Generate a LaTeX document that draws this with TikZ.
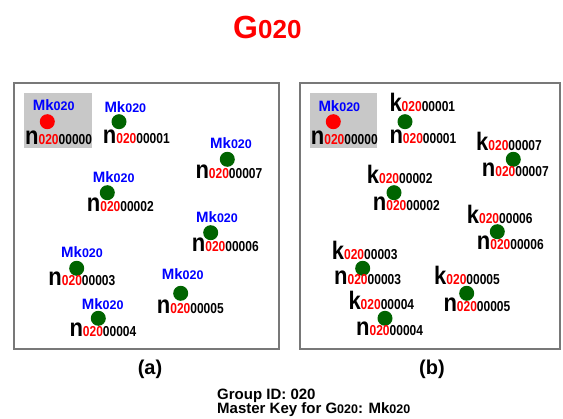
\documentclass[tikz,border=0pt]{standalone}
\usepackage{fontspec}
\setmainfont{Liberation Sans}
\usepackage{graphicx}
\definecolor{dgreen}{RGB}{0,100,0}
\definecolor{boxgray}{RGB}{200,200,200}
\definecolor{framegray}{RGB}{120,120,120}
\newcommand{\Lbig}[1]{\scalebox{1}[1.15]{\fontsize{22}{22}\selectfont #1}}
\newcommand{\Ldig}[1]{\scalebox{1}[1.2]{\fontsize{12}{12}\selectfont #1}}
\newcommand{\nlab}[2]{\Lbig{#1}\Ldig{\textcolor{red}{020}#2}}
\newcommand{\mklab}{\textcolor{blue}{{\fontsize{15}{15}\selectfont Mk}{\fontsize{12.5}{12.5}\selectfont 020}}}
\tikzset{
  lab/.style={anchor=base west, inner sep=0pt, font=\bfseries},
  dot/.style={circle, fill=dgreen, minimum size=15pt, inner sep=0pt},
  mdot/.style={circle, fill=red, minimum size=15pt, inner sep=0pt},
  panel/.style={draw=framegray, line width=1.6pt},
  keybox/.style={fill=boxgray},
  foot/.style={anchor=base west, inner sep=0pt, font=\bfseries\fontsize{15}{15}\selectfont},
  panelcaption/.style={anchor=base, inner sep=0pt, font=\bfseries\fontsize{20}{20}\selectfont},
}
\begin{document}
\begin{tikzpicture}[x=1pt,y=-1pt]
\useasboundingbox (0,0) rectangle (563,419);
% title
\node[lab, text=red] (title) at (233,39) {{\fontsize{32}{32}\selectfont G}{\fontsize{26}{26}\selectfont 020}};
% panels
\draw[panel] (14,83) rectangle (279,349);
\draw[panel] (300,83) rectangle (560,349);
\fill[keybox] (24,93) rectangle (92,148);
\fill[keybox] (310,93) rectangle (377,148);
% panel (a)
\node[mdot] (a0) at (47.3,121.7) {};
\node[lab] (a0k) at (32.7,110.7) {\mklab};
\node[lab] (a0n) at (25,144.3) {\nlab{n}{00000}};
\node[dot] (a1) at (119,121.7) {};
\node[lab] (a1k) at (104.3,112.3) {\mklab};
\node[lab] (a1n) at (102.7,143.3) {\nlab{n}{00001}};
\node[dot] (a7) at (227.3,159.3) {};
\node[lab] (a7k) at (210,148.3) {\mklab};
\node[lab] (a7n) at (195.3,178.3) {\nlab{n}{00007}};
\node[dot] (a2) at (107.3,192.7) {};
\node[lab] (a2k) at (92.7,182.7) {\mklab};
\node[lab] (a2n) at (86.7,211.7) {\nlab{n}{00002}};
\node[dot] (a6) at (210.7,232.7) {};
\node[lab] (a6k) at (196,222.7) {\mklab};
\node[lab] (a6n) at (191.7,251.7) {\nlab{n}{00006}};
\node[dot] (a3) at (76.7,268.3) {};
\node[lab] (a3k) at (61,257.3) {\mklab};
\node[lab] (a3n) at (48.3,286) {\nlab{n}{00003}};
\node[dot] (a5) at (180.7,293.3) {};
\node[lab] (a5k) at (161.7,280) {\mklab};
\node[lab] (a5n) at (156.7,313.3) {\nlab{n}{00005}};
\node[dot] (a4) at (98.3,318.3) {};
\node[lab] (a4k) at (81.7,309.3) {\mklab};
\node[lab] (a4n) at (69.3,336.7) {\nlab{n}{00004}};
% panel (b)
\node[mdot] (b0) at (333.3,121.7) {};
\node[lab] (b0k) at (318.3,111.7) {\mklab};
\node[lab] (b0n) at (310.7,145) {\nlab{n}{00000}};
\node[dot] (b1) at (405,121.7) {};
\node[lab] (b1k) at (389.3,111.7) {\nlab{k}{00001}};
\node[lab] (b1n) at (389.3,143.3) {\nlab{n}{00001}};
\node[dot] (b7) at (513.3,159.3) {};
\node[lab] (b7k) at (476,150.7) {\nlab{k}{00007}};
\node[lab] (b7n) at (481.7,176.7) {\nlab{n}{00007}};
\node[dot] (b2) at (394,192.7) {};
\node[lab] (b2k) at (366.7,184) {\nlab{k}{00002}};
\node[lab] (b2n) at (372.7,210.7) {\nlab{n}{00002}};
\node[dot] (b6) at (497.3,231.7) {};
\node[lab] (b6k) at (466.7,223.3) {\nlab{k}{00006}};
\node[lab] (b6n) at (476.7,250) {\nlab{n}{00006}};
\node[dot] (b3) at (362.7,268.3) {};
\node[lab] (b3k) at (331.7,259.3) {\nlab{k}{00003}};
\node[lab] (b3n) at (334,285) {\nlab{n}{00003}};
\node[dot] (b5) at (466.7,293.3) {};
\node[lab] (b5k) at (434,285) {\nlab{k}{00005}};
\node[lab] (b5n) at (443.3,311.7) {\nlab{n}{00005}};
\node[dot] (b4) at (385,318.3) {};
\node[lab] (b4k) at (348.3,310) {\nlab{k}{00004}};
\node[lab] (b4n) at (356,336) {\nlab{n}{00004}};
% captions
\node[panelcaption] (capa) at (150,375) {(a)};
\node[panelcaption] (capb) at (432,375) {(b)};
\node[foot] (gid) at (217,399.5) {Group ID: 020};
\node[foot] (mkey) at (217,414) {Master Key for G{\fontsize{12.5}{12.5}\selectfont 020}: Mk{\fontsize{12.5}{12.5}\selectfont 020}};
\end{tikzpicture}
\end{document}
